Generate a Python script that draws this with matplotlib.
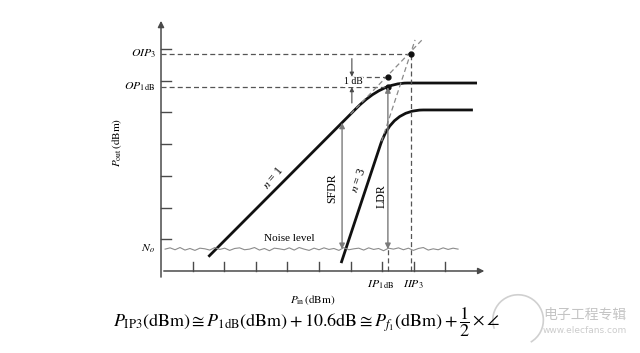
import matplotlib.pyplot as plt
import numpy as np
from matplotlib.path import Path
from matplotlib.patches import PathPatch, Arc

plt.rcParams['font.family'] = ['Liberation Serif', 'DejaVu Serif']
plt.rcParams['mathtext.fontset'] = 'stix'

# —— 示意图数据（单位：格）——
x_ticks = [1, 2, 3, 4, 5, 6, 7, 8, 9]
y_ticks = [1, 2, 3, 4, 5, 6, 7]

iip3, oip3 = 7.9, 6.85          # 三阶截点
ip1db, op1db = 7.18, 5.80        # 1 dB 压缩点
lin_at_ip1db = 6.13              # 线性外推值
noise_lvl = 0.69

# n=1 曲线: 起点, 拐点起, 控制点, 拐点止, 终点
n1_u = [1.50, 6.20, 6.98, 7.80, 10.00]
n1_v = [0.45, 5.15, 5.93, 5.93, 5.93]
# n=3 曲线
n3_u = [5.70, 6.95, 7.31, 8.30, 9.87]
n3_v = [0.25, 4.00, 5.08, 5.08, 5.08]

# 外推虚线
ext1_u, ext1_v = [6.00, 8.26], [4.95, 7.29]
ext3_u, ext3_v = [6.98, 8.04], [4.09, 7.29]

sfdr_u, sfdr_top = 5.73, 4.68

# 噪声起伏
noise_dv = [0.00, 0.04, -0.02, 0.05, -0.03, 0.02, -0.04, 0.03, 0.01, -0.03,
            0.05, -0.01, 0.03, -0.04, 0.02, 0.04, -0.02, 0.00, 0.05, -0.03,
            0.02, -0.05, 0.03, 0.01, -0.02, 0.04, -0.03, 0.05, 0.00, -0.04,
            0.03, -0.02, 0.04, -0.01, 0.02, -0.04, 0.05, -0.02, 0.01, 0.03,
            -0.03, 0.04, -0.01, 0.02, -0.05, 0.03, 0.00, 0.04, -0.02, 0.03,
            -0.04, 0.02, 0.05, -0.03, 0.01, -0.02, 0.04, -0.01, 0.03, 0.00]
# ———————————————————

fig = plt.figure(figsize=(6.4, 3.53), dpi=100)
ax = fig.add_axes([0, 0, 1, 1])
ax.set_xlim(-5.095, 15.158)
ax.set_ylim(-2.587, 8.549)
ax.axis('off')

axc = '#4a4a4a'
dash = '#555555'
grey = '#7a7a7a'

# 坐标轴
ax.annotate('', xy=(0, 7.98), xytext=(0, -0.28),
            arrowprops=dict(arrowstyle='-|>', color=axc, lw=1.1, mutation_scale=9))
ax.annotate('', xy=(10.32, 0), xytext=(0, 0),
            arrowprops=dict(arrowstyle='-|>', color=axc, lw=1.1, mutation_scale=9))
for t in x_ticks:
    ax.plot([t, t], [0, 0.28], color=axc, lw=1.0)
for t in y_ticks:
    ax.plot([0, 0.32], [t, t], color=axc, lw=1.0)

# 水平虚线
ax.plot([0, iip3], [oip3, oip3], ls=(0, (4, 2.5)), color=dash, lw=0.9)
ax.plot([0, ip1db], [op1db, op1db], ls=(0, (4, 2.5)), color=dash, lw=0.9)
ax.plot([5.98, ip1db], [lin_at_ip1db, lin_at_ip1db], ls=(0, (4, 2.5)), color=dash, lw=0.9)
# 外推线
ax.plot(ext1_u, ext1_v, ls=(0, (4, 2.5)), color='#8a8a8a', lw=0.9)
ax.plot(ext3_u, ext3_v, ls=(0, (4, 2.5)), color='#8a8a8a', lw=0.9)
# IIP3 竖虚线
ax.plot([iip3, iip3], [0, oip3], ls=(0, (4, 2.5)), color=dash, lw=0.9)
ax.plot([ip1db, ip1db], [0, noise_lvl], ls=(0, (4, 2.5)), color=dash, lw=0.9)

# 噪声
nu = np.linspace(0.13, 9.4, len(noise_dv))
ax.plot(nu, noise_lvl + np.array(noise_dv), color='#8c8c8c', lw=0.8)

# 曲线
codes = [Path.MOVETO, Path.LINETO, Path.CURVE3, Path.CURVE3, Path.LINETO]
for uu, vv in [(n1_u, n1_v), (n3_u, n3_v)]:
    p = Path(np.column_stack([uu, vv]), codes)
    ax.add_patch(PathPatch(p, fill=False, lw=2.0, color='#111111', capstyle='butt'))

# 点
ax.plot([iip3, ip1db, ip1db], [oip3, lin_at_ip1db, op1db], 'o', color='#111111', ms=3.5)

# SFDR / LDR
ax.annotate('', xy=(sfdr_u, noise_lvl), xytext=(sfdr_u, sfdr_top),
            arrowprops=dict(arrowstyle='<|-|>', color=grey, lw=1.0, mutation_scale=8, shrinkA=0, shrinkB=0))
ax.annotate('', xy=(ip1db, noise_lvl), xytext=(ip1db, op1db),
            arrowprops=dict(arrowstyle='<|-|>', color=grey, lw=1.0, mutation_scale=8, shrinkA=0, shrinkB=0))
# 1 dB 箭头
ax.annotate('', xy=(6.04, lin_at_ip1db), xytext=(6.04, 6.7),
            arrowprops=dict(arrowstyle='-|>', color=axc, lw=0.8, mutation_scale=6, shrinkA=0, shrinkB=0))
ax.annotate('', xy=(6.04, op1db), xytext=(6.04, 5.3),
            arrowprops=dict(arrowstyle='-|>', color=axc, lw=0.8, mutation_scale=6, shrinkA=0, shrinkB=0))

# 文字
fs = 8.5
ax.text(-0.16, oip3, r'$OIP_3$', ha='right', va='center', fontsize=fs)
ax.text(-0.16, op1db, r'$OP_{1\,\mathrm{dB}}$', ha='right', va='center', fontsize=fs)
ax.text(-0.2, noise_lvl, r'$N_o$', ha='right', va='center', fontsize=fs)
ax.text(-1.39, 4.07, r'$P_{\mathrm{out}}\,(\mathrm{dBm})$', ha='center', va='center',
        rotation=90, fontsize=8)
ax.text(4.81, -0.92, r'$P_{\mathrm{in}}\,(\mathrm{dBm})$', ha='center', va='center', fontsize=8)
ax.text(6.96, -0.44, r'$IP_{1\,\mathrm{dB}}$', ha='center', va='center', fontsize=fs)
ax.text(8.0, -0.44, r'$IIP_3$', ha='center', va='center', fontsize=fs)
ax.text(4.05, 1.01, 'Noise level', ha='center', va='center', fontsize=8)
ax.text(6.08, 5.97, '1 dB', ha='center', va='center', fontsize=7,
        bbox=dict(facecolor='white', edgecolor='none', pad=0.3))
ax.text(3.55, 2.95, r'$n$ = 1', ha='center', va='center', rotation=50, fontsize=8.5)
ax.text(6.25, 2.87, r'$n$ = 3', ha='center', va='center', rotation=70, fontsize=8.5)
ax.text(5.41, 2.62, 'SFDR', ha='center', va='center', rotation=90, fontsize=8.5)
ax.text(6.99, 2.37, 'LDR', ha='center', va='center', rotation=90, fontsize=8.5)

# 底部公式（分数单独放，避免与横轴标题重叠）
t1 = ax.text(-1.52, -1.62,
             r'$P_{\mathrm{IP3}}(\mathrm{dBm})\cong P_{\mathrm{1dB}}(\mathrm{dBm})+10.6\mathrm{dB}'
             r'\cong P_{f_1}(\mathrm{dBm})+$',
             ha='left', va='center', fontsize=13)
ax.annotate(r'$\dfrac{1}{2}\times\angle$', xy=(1, 0.5), xycoords=t1,
            xytext=(1, 0), textcoords='offset points',
            ha='left', va='center', fontsize=13)

# 水印
ax.add_patch(Arc((11.3, -1.55), 1.6, 1.6, theta1=-60, theta2=200, color='#d0d0d0', lw=1.2))
ax.text(13.4, -1.4, '电子工程专辑', ha='center', va='center', fontsize=10, color='#c4c4c4',
        family=['Noto Sans CJK SC', 'DejaVu Sans'])
ax.text(13.4, -1.87, 'www.elecfans.com', ha='center', va='center', fontsize=6.5, color='#cccccc',
        family='DejaVu Sans')

fig.savefig('out.png', dpi=100, facecolor='white')
